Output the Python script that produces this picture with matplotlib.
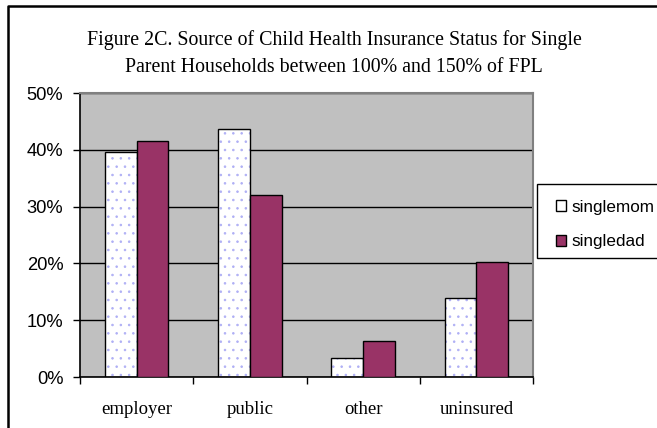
import matplotlib
matplotlib.use("Agg")
import matplotlib.pyplot as plt
from matplotlib.patches import Patch, Rectangle
from matplotlib.lines import Line2D
from matplotlib.ticker import PercentFormatter
import numpy as np

categories = ["employer", "public", "other", "uninsured"]
singlemom = [39.7, 43.7, 3.3, 13.9]
singledad = [41.5, 32.0, 6.4, 20.3]
series_names = ["singlemom", "singledad"]
yticks = [0, 10, 20, 30, 40, 50]

W, H = 657, 428
plt.rcParams["hatch.linewidth"] = 0.6
fig = plt.figure(figsize=(W / 100, H / 100), dpi=100)
fig.patch.set_facecolor("white")

def px(x0, y0, x1, y1):
    # pixel box (top-left origin) -> figure fraction [left, bottom, width, height]
    return [x0 / W, 1 - y1 / H, (x1 - x0) / W, (y1 - y0) / H]

ax = fig.add_axes(px(80, 93, 533, 377))
ax.set_facecolor("#C0C0C0")

x = np.arange(len(categories))
bw = 0.28
dad_color = "#993366"
dot_color = "#AFAFF5"

# singlemom: white bars with a light dotted texture and a black outline
ax.bar(x - bw / 2, singlemom, bw, color="white", edgecolor=dot_color,
       hatch="..", linewidth=0, zorder=2)
ax.bar(x - bw / 2, singlemom, bw, fill=False, edgecolor="black",
       linewidth=1.0, zorder=3)
# singledad: solid plum bars
ax.bar(x + bw / 2, singledad, bw, color=dad_color, edgecolor="black",
       linewidth=1.0, zorder=3)

ax.set_xlim(-0.5, len(categories) - 0.5)
ax.set_ylim(0, 50)

ax.set_yticks(yticks)
ax.yaxis.set_major_formatter(PercentFormatter(decimals=0))
ax.grid(axis="y", color="black", linewidth=1.0, zorder=1)
ax.set_axisbelow(True)

ax.set_xticks(x)
ax.set_xticklabels(categories, fontfamily="Liberation Serif", fontsize=13.5)
ax.set_xticks(np.arange(-0.5, len(categories)), minor=True)
ax.tick_params(axis="x", which="major", length=0, pad=17)
ax.tick_params(axis="x", which="minor", length=5, width=1, direction="out", color="black")
ax.tick_params(axis="y", length=5, width=1, direction="out", pad=7, color="black")
for lab in ax.get_yticklabels():
    lab.set_fontfamily("Liberation Sans")
    lab.set_fontsize(13.2)

ax.spines["left"].set_color("black")
ax.spines["bottom"].set_color("black")
ax.spines["left"].set_linewidth(1.2)
ax.spines["bottom"].set_linewidth(1.2)
ax.spines["top"].set_color("#808080")
ax.spines["right"].set_color("#808080")
ax.spines["top"].set_linewidth(1.5)
ax.spines["right"].set_linewidth(1.5)

# title
fig.text(334 / W, 1 - 40 / H,
         "Figure 2C. Source of Child Health Insurance Status for Single",
         ha="center", va="center", fontfamily="Liberation Serif", fontsize=14.3)
fig.text(334 / W, 1 - 67 / H,
         "Parent Households between 100% and 150% of FPL",
         ha="center", va="center", fontfamily="Liberation Serif", fontsize=14.3)

# chart frame (top and left edges visible)
fig.add_artist(Line2D([8 / W, 8 / W, 1.01], [-0.01, 1 - 6 / H, 1 - 6 / H],
                      transform=fig.transFigure, color="black", linewidth=1.8))

# legend
fig.add_artist(Rectangle((537 / W, 1 - 258 / H), 140 / W, 74 / H,
                         transform=fig.transFigure, facecolor="white",
                         edgecolor="black", linewidth=1.0))
handles = [Patch(facecolor="white", edgecolor="black", linewidth=1.0),
           Patch(facecolor=dad_color, edgecolor="black", linewidth=1.0)]
leg = fig.legend(handles, series_names, loc="upper left",
                 bbox_to_anchor=(547 / W, 1 - 191 / H),
                 frameon=False, handlelength=0.6, handleheight=0.6,
                 handletextpad=0.35, labelspacing=1.15, borderpad=0,
                 prop={"family": "Liberation Sans", "size": 12.3})

fig.savefig("out.png", dpi=100)
